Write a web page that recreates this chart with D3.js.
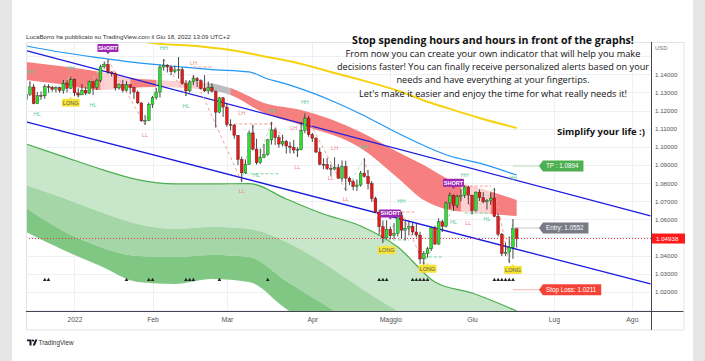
<!DOCTYPE html>
<html>
<head>
<meta charset="utf-8">
<title>EURUSD idea</title>
<script src="https://d3js.org/d3.v7.min.js"></script>
<style>
  body { margin: 0; background: #e6e6e6; }
  svg { display: block; }
</style>
</head>
<body>
<svg id="chart" width="705" height="361"></svg>
<script>
// ---- data (EURUSD daily) ----
var dates = [
  "2021-12-15","2021-12-16","2021-12-17","2021-12-20","2021-12-21","2021-12-22","2021-12-23","2021-12-24","2021-12-27","2021-12-28","2021-12-29","2021-12-30","2021-12-31",
  "2022-01-03","2022-01-04","2022-01-05","2022-01-06","2022-01-07","2022-01-10","2022-01-11","2022-01-12","2022-01-13","2022-01-14","2022-01-17","2022-01-18","2022-01-19","2022-01-20","2022-01-21","2022-01-24","2022-01-25","2022-01-26","2022-01-27","2022-01-28","2022-01-31",
  "2022-02-01","2022-02-02","2022-02-03","2022-02-04","2022-02-07","2022-02-08","2022-02-09","2022-02-10","2022-02-11","2022-02-14","2022-02-15","2022-02-16","2022-02-17","2022-02-18","2022-02-21","2022-02-22","2022-02-23","2022-02-24","2022-02-25","2022-02-28",
  "2022-03-01","2022-03-02","2022-03-03","2022-03-04","2022-03-07","2022-03-08","2022-03-09","2022-03-10","2022-03-11","2022-03-14","2022-03-15","2022-03-16","2022-03-17","2022-03-18","2022-03-21","2022-03-22","2022-03-23","2022-03-24","2022-03-25","2022-03-28","2022-03-29","2022-03-30","2022-03-31",
  "2022-04-01","2022-04-04","2022-04-05","2022-04-06","2022-04-07","2022-04-08","2022-04-11","2022-04-12","2022-04-13","2022-04-14","2022-04-15","2022-04-18","2022-04-19","2022-04-20","2022-04-21","2022-04-22","2022-04-25","2022-04-26","2022-04-27","2022-04-28","2022-04-29",
  "2022-05-02","2022-05-03","2022-05-04","2022-05-05","2022-05-06","2022-05-09","2022-05-10","2022-05-11","2022-05-12","2022-05-13","2022-05-16","2022-05-17","2022-05-18","2022-05-19","2022-05-20","2022-05-23","2022-05-24","2022-05-25","2022-05-26","2022-05-27","2022-05-30","2022-05-31",
  "2022-06-01","2022-06-02","2022-06-03","2022-06-06","2022-06-07","2022-06-08","2022-06-09","2022-06-10","2022-06-13","2022-06-14","2022-06-15","2022-06-16","2022-06-17"
];
var open = [
  1.1259,1.1290,1.1330,1.1238,1.1283,1.1281,1.1332,1.1328,1.1318,1.1327,1.1310,1.1349,1.1323,
  1.1370,1.1297,1.1286,1.1312,1.1296,1.1359,1.1326,1.1367,1.1441,1.1455,1.1413,1.1405,1.1325,1.1344,1.1312,1.1343,1.1326,1.1302,1.1242,1.1143,1.1146,
  1.1233,1.1271,1.1302,1.1440,1.1450,1.1440,1.1415,1.1424,1.1426,1.1348,1.1308,1.1358,1.1375,1.1364,1.1321,1.1308,1.1328,1.1306,1.1191,1.1270,
  1.1219,1.1123,1.1120,1.1063,1.0930,1.0856,1.0903,1.1076,1.0987,1.0912,1.0942,1.0956,1.1038,1.1093,1.1050,1.1015,1.1030,1.1004,1.0997,1.0982,1.0984,1.1089,1.1158,
  1.1067,1.1047,1.0971,1.0903,1.0902,1.0880,1.0877,1.0885,1.0827,1.0891,1.0827,1.0808,1.0780,1.0789,1.0855,1.0836,1.0797,1.0714,1.0640,1.0559,1.0497,
  1.0545,1.0509,1.0522,1.0620,1.0540,1.0551,1.0561,1.0530,1.0513,1.0381,1.0411,1.0437,1.0552,1.0463,1.0586,1.0562,1.0690,1.0733,1.0677,1.0725,1.0733,1.0778,
  1.0733,1.0648,1.0750,1.0719,1.0696,1.0703,1.0717,1.0616,1.0518,1.0410,1.0419,1.0445,1.0551
];
var high = [
  1.1300,1.1360,1.1346,1.1302,1.1305,1.1345,1.1345,1.1336,1.1334,1.1331,1.1369,1.1365,1.1386,
  1.1376,1.1323,1.1346,1.1330,1.1364,1.1362,1.1375,1.1452,1.1470,1.1482,1.1416,1.1410,1.1350,1.1369,1.1363,1.1345,1.1330,1.1310,1.1245,1.1175,1.1245,
  1.1280,1.1325,1.1451,1.1484,1.1455,1.1446,1.1448,1.1495,1.1440,1.1368,1.1368,1.1395,1.1385,1.1372,1.1395,1.1360,1.1350,1.1310,1.1275,1.1275,
  1.1237,1.1151,1.1125,1.1065,1.0945,1.0930,1.1090,1.1121,1.1044,1.0990,1.1016,1.1044,1.1137,1.1104,1.1066,1.1067,1.1038,1.1027,1.1037,1.0997,1.1137,1.1185,1.1170,
  1.1076,1.1054,1.0995,1.0936,1.0938,1.0903,1.0942,1.0904,1.0925,1.0923,1.0835,1.0818,1.0820,1.0867,1.0936,1.0872,1.0810,1.0725,1.0654,1.0593,1.0594,
  1.0559,1.0579,1.0630,1.0642,1.0590,1.0592,1.0580,1.0578,1.0531,1.0425,1.0448,1.0555,1.0565,1.0605,1.0597,1.0698,1.0748,1.0737,1.0735,1.0765,1.0786,1.0784,
  1.0736,1.0753,1.0764,1.0750,1.0712,1.0748,1.0773,1.0632,1.0524,1.0470,1.0506,1.0601,1.0556
];
var low = [
  1.1222,1.1280,1.1235,1.1235,1.1260,1.1265,1.1300,1.1304,1.1300,1.1298,1.1293,1.1300,1.1318,
  1.1280,1.1273,1.1285,1.1285,1.1290,1.1285,1.1313,1.1355,1.1430,1.1402,1.1388,1.1310,1.1315,1.1300,1.1305,1.1290,1.1264,1.1235,1.1137,1.1121,1.1141,
  1.1214,1.1260,1.1272,1.1420,1.1410,1.1395,1.1405,1.1375,1.1342,1.1280,1.1300,1.1340,1.1330,1.1315,1.1302,1.1290,1.1300,1.1106,1.1185,1.1165,
  1.1110,1.1090,1.1044,1.0899,1.0806,1.0850,1.0900,1.0980,1.0902,1.0905,1.0937,1.0950,1.1012,1.1010,1.0995,1.1002,1.0962,1.0963,1.0963,1.0945,1.0980,1.1075,1.1055,
  1.1027,1.0965,1.0898,1.0876,1.0872,1.0837,1.0870,1.0823,1.0807,1.0757,1.0790,1.0760,1.0757,1.0780,1.0830,1.0765,1.0697,1.0636,1.0515,1.0470,1.0490,
  1.0490,1.0492,1.0505,1.0493,1.0484,1.0510,1.0513,1.0500,1.0354,1.0350,1.0390,1.0425,1.0460,1.0460,1.0530,1.0555,1.0658,1.0646,1.0662,1.0699,1.0717,1.0683,
  1.0627,1.0642,1.0701,1.0688,1.0653,1.0680,1.0611,1.0506,1.0397,1.0397,1.0359,1.0382,1.0444
];
var close = [
  1.1290,1.1330,1.1238,1.1283,1.1281,1.1332,1.1328,1.1318,1.1327,1.1310,1.1349,1.1323,1.1370,
  1.1297,1.1286,1.1312,1.1296,1.1359,1.1326,1.1367,1.1441,1.1455,1.1413,1.1405,1.1325,1.1344,1.1312,1.1343,1.1326,1.1302,1.1242,1.1143,1.1146,1.1233,
  1.1271,1.1302,1.1440,1.1450,1.1440,1.1415,1.1424,1.1426,1.1348,1.1308,1.1358,1.1375,1.1364,1.1321,1.1308,1.1328,1.1306,1.1191,1.1270,1.1219,
  1.1123,1.1120,1.1063,1.0930,1.0856,1.0903,1.1076,1.0987,1.0912,1.0942,1.0956,1.1038,1.1093,1.1050,1.1015,1.1030,1.1004,1.0997,1.0982,1.0984,1.1089,1.1158,1.1067,
  1.1047,1.0971,1.0903,1.0902,1.0880,1.0877,1.0885,1.0827,1.0891,1.0827,1.0808,1.0780,1.0789,1.0855,1.0836,1.0797,1.0714,1.0640,1.0559,1.0497,1.0545,
  1.0509,1.0522,1.0620,1.0540,1.0551,1.0561,1.0530,1.0513,1.0381,1.0411,1.0437,1.0552,1.0463,1.0586,1.0562,1.0690,1.0733,1.0677,1.0725,1.0733,1.0778,1.0733,
  1.0648,1.0750,1.0719,1.0696,1.0703,1.0717,1.0616,1.0518,1.0410,1.0419,1.0445,1.0551,1.04938
];
var lastPrice = 1.04938;

// axes
var priceTicks = [1.14, 1.13, 1.12, 1.11, 1.10, 1.09, 1.08, 1.07, 1.06, 1.04, 1.03, 1.02];
var gridPrices = [1.15, 1.14, 1.13, 1.12, 1.11, 1.10, 1.09, 1.08, 1.07, 1.06, 1.05, 1.04, 1.03, 1.02, 1.01];
var timeTickBars = [13, 34, 54, 77, 98, 120, 142, 163];
var timeTickLabels = ["2022", "Feb", "Mar", "Apr", "Maggio", "Giu", "Lug", "Ago"];

// overlays (bar index, price)
var yellowBars = [20, 31, 33, 47, 55, 65, 73, 82, 90, 101, 108, 114, 122, 132];
var yellowVals = [1.1625, 1.1585, 1.1575, 1.1553, 1.1534, 1.1495, 1.1462, 1.1413, 1.1369, 1.1303, 1.1248, 1.1209, 1.1159, 1.1104];
var skyBars = [0, 9, 20, 28, 42, 50, 60, 65, 68, 77, 83, 90, 101, 114, 122, 132];
var skyVals = [1.1556, 1.1523, 1.1490, 1.1468, 1.1440, 1.1426, 1.1413, 1.1374, 1.1358, 1.1297, 1.1247, 1.1181, 1.1065, 1.0949, 1.0910, 1.0844];
var channelBars = [0, 168];
var channelTop = [1.1531, 1.0619];
var channelBottom = [1.1138, 1.0243];

var bandBars = [0, 9, 20, 28, 35, 49, 55, 64, 74, 90, 100, 107, 114, 122, 132];
var bandTop = [1.1468, 1.1446, 1.1413, 1.1380, 1.1369, 1.1352, 1.1324, 1.1242, 1.1203, 1.1082, 1.0971, 1.0899, 1.0817, 1.0773, 1.0706];
var bandBottom = [1.1369, 1.1346, 1.1313, 1.1324, 1.1330, 1.1313, 1.1286, 1.1186, 1.1120, 1.0993, 1.0828, 1.0706, 1.0651, 1.0634, 1.0618];
var bandFrom = [0, 20, 28, 35, 49, 55, 117, 125];
var bandTo = [20, 28, 35, 49, 55, 117, 125, 133];
var bandKind = ["bear", "weak", "bear", "weak", "flat", "bear", "weak", "bear"];

var greenBars = [0, 10, 20, 30, 40, 50, 60, 70, 80, 90, 100, 110, 120, 132];
var greenTop = [1.1015, 1.0946, 1.0877, 1.0819, 1.0795, 1.0795, 1.0797, 1.0712, 1.0629, 1.0563, 1.0447, 1.0254, 1.0193, 1.0094];
var greenMid = [1.0789, 1.0717, 1.0640, 1.0574, 1.0546, 1.0557, 1.0546, 1.0475, 1.0359, 1.0221, 1.0094, 0.9989, 0.9934, 0.9879];
var greenInner = [1.0662, 1.0535, 1.0447, 1.0397, 1.0392, 1.0403, 1.0392, 1.0259, 1.0132, 1.0016, 0.9934, 0.9879, 0.9851, 0.9824];
var greenBottom = [1.0530, 1.0430, 1.0342, 1.0254, 1.0243, 1.0270, 1.0254, 1.0105, 0.9989, 0.9906, 0.9851, 0.9824, 0.9797, 0.9769];

var zigBars = [1, 2, 12, 14, 22, 32, 37, 43, 45, 58, 61, 62, 66, 73, 75, 86, 91, 96, 101, 107, 118, 120, 126, 130, 131];
var zigPrice = [1.1360, 1.1235, 1.1386, 1.1273, 1.1482, 1.1121, 1.1484, 1.1280, 1.1395, 1.0806, 1.1121, 1.0902, 1.1137, 1.0945, 1.1185, 1.0757, 1.0936, 1.0470, 1.0642, 1.0350, 1.0786, 1.0627, 1.0773, 1.0359, 1.0601];

var levelFrom = [45, 56, 59, 96, 101, 107, 118, 118];
var levelTo = [50, 66, 68, 103, 105, 112, 125, 125];
var levelPrice = [1.1440, 1.1126, 1.0851, 1.0486, 1.0640, 1.0392, 1.0783, 1.0634];
var levelKind = ["hi", "hi", "lo", "lo", "hi", "lo", "hi", "lo"];

var pivotBars = [1, 3, 12, 18, 32, 37, 45, 43, 58, 58, 62, 66, 72, 73, 75, 83, 91, 82, 86, 101, 115, 119, 124, 118, 131, 131];
var pivotText = ["HH", "HL", "HH", "HL", "LL", "HH", "LH", "HL", "LH", "LL", "HL", "HH", "LH", "LL", "HH", "LH", "HH", "LL", "LL", "HH", "HL", "LL", "HL", "HH", "HH", "LH"];
var pivotPrice = [1.1414, 1.1181, 1.1436, 1.1231, 1.1065, 1.1542, 1.1460, 1.1225, 1.1186, 1.0756, 1.0844, 1.1197, 1.1104, 1.0890, 1.1249, 1.0992, 1.0997, 1.0826, 1.0710, 1.0701, 1.0587, 1.0578, 1.0600, 1.0844, 1.0826, 1.0661];

var signalBars = [22, 12, 98, 97, 108, 115, 131];
var signalText = ["SHORT", "LONG", "SHORT", "LONG", "LONG", "SHORT", "LONG"];
var signalPrice = [1.1545, 1.1243, 1.0632, 1.0429, 1.0327, 1.0801, 1.0320];

var markerBars = [5, 6, 27, 33, 34, 43, 44, 45, 52, 65, 95, 96, 97, 104, 105, 106, 107, 108, 126, 127, 128, 129, 130, 131];
var markerPrice = 1.0265;

var tradeText = ["TP : 1.0894", "Entry: 1.0552", "Stop Loss: 1.0211"];
var tradePrice = [1.0894, 1.0552, 1.0211];

var noteLines = [
  "Stop spending hours and hours in front of the graphs!",
  "From now you can create your own indicator that will help you make",
  "decisions faster! You can finally receive personalized alerts based on your",
  "needs and have everything at your fingertips.",
  "Let's make it easier and enjoy the time for what really needs it!"
];
var noteWidths = [282, 295, 312, 193, 268];

// ---- drawing ----
var svg = d3.select("#chart");
var plot = { left: 26, right: 651, top: 42, bottom: 311 };
var x = d3.scaleLinear().domain([-0.05, 168.15]).range([plot.left, plot.right]);
var y = d3.scaleLinear().domain([1.0094, 1.1578]).range([plot.bottom, plot.top]);
var font = "'Liberation Sans', Arial, sans-serif";

svg.append("rect").attr("width", 705).attr("height", 361).attr("fill", "#e6e6e6");
svg.append("rect").attr("x", 12).attr("width", 681).attr("height", 361).attr("fill", "#fff");

var defs = svg.append("defs");
defs.append("clipPath").attr("id", "plotClip").append("rect")
  .attr("x", plot.left).attr("y", plot.top)
  .attr("width", plot.right - plot.left).attr("height", plot.bottom - plot.top);

// grid
var grid = svg.append("g").attr("stroke", "#eef0f5").attr("stroke-width", 1);
grid.selectAll(".gh").data(gridPrices).enter().append("line")
  .attr("x1", plot.left).attr("x2", plot.right)
  .attr("y1", function(d) { return Math.round(y(d)) + 0.5; })
  .attr("y2", function(d) { return Math.round(y(d)) + 0.5; });
grid.selectAll(".gv").data(timeTickBars).enter().append("line")
  .attr("y1", plot.top).attr("y2", plot.bottom)
  .attr("x1", function(d) { return Math.round(x(d)) + 0.5; })
  .attr("x2", function(d) { return Math.round(x(d)) + 0.5; });

var g = svg.append("g").attr("clip-path", "url(#plotClip)");

// green lower bands
function zipBand(bars, hi, lo) {
  return bars.map(function(k, i) { return { k: k, hi: hi[i], lo: lo[i] }; });
}
var bandArea = d3.area()
  .x(function(d) { return x(d.k); })
  .y0(function(d) { return y(d.lo); })
  .y1(function(d) { return y(d.hi); })
  .curve(d3.curveMonotoneX);
g.append("path").datum(zipBand(greenBars, greenTop, greenMid)).attr("d", bandArea).attr("fill", "#c8e6c9");
g.append("path").datum(zipBand(greenBars, greenMid, greenInner)).attr("d", bandArea).attr("fill", "#a5d6a7");
g.append("path").datum(zipBand(greenBars, greenInner, greenBottom)).attr("d", bandArea).attr("fill", "#81c784");

var lineGen = d3.line()
  .x(function(d) { return x(d[0]); })
  .y(function(d) { return y(d[1]); })
  .curve(d3.curveMonotoneX);
function pts(bars, vals) { return bars.map(function(k, i) { return [k, vals[i]]; }); }

g.append("path").datum(pts(greenBars, greenTop)).attr("d", lineGen)
  .attr("fill", "none").attr("stroke", "#4caf50").attr("stroke-width", 1.2);

// red cloud
var bandColors = { bear: "#f67f7f", weak: "#fbd1d1", flat: "#bdbdbd" };
var cloud = zipBand(bandBars, bandTop, bandBottom);
bandFrom.forEach(function(k0, i) {
  var id = "band" + i;
  defs.append("clipPath").attr("id", id).append("rect")
    .attr("x", x(k0)).attr("y", 0).attr("width", x(bandTo[i]) - x(k0) + 0.3).attr("height", 361);
  g.append("g").attr("clip-path", "url(#" + id + ")")
    .append("path").datum(cloud).attr("d", bandArea).attr("fill", bandColors[bandKind[i]]);
});

// moving averages
g.append("path").datum(pts(yellowBars, yellowVals)).attr("d", lineGen)
  .attr("fill", "none").attr("stroke", "#f6d20f").attr("stroke-width", 2);
g.append("path").datum(pts(skyBars, skyVals)).attr("d", lineGen)
  .attr("fill", "none").attr("stroke", "#2196f3").attr("stroke-width", 1.2);

// channel
var straight = d3.line().x(function(d) { return x(d[0]); }).y(function(d) { return y(d[1]); });
[channelTop, channelBottom].forEach(function(vals) {
  g.append("path").datum(pts(channelBars, vals)).attr("d", straight)
    .attr("fill", "none").attr("stroke", "#1c1ce0").attr("stroke-width", 1.3);
});

// zigzag legs
for (var i = 0; i < zigBars.length - 1; i++) {
  var down = zigPrice[i + 1] < zigPrice[i];
  g.append("line")
    .attr("x1", x(zigBars[i])).attr("y1", y(zigPrice[i]))
    .attr("x2", x(zigBars[i + 1])).attr("y2", y(zigPrice[i + 1]))
    .attr("stroke", down ? "#f3a09a" : "#a6e3b8").attr("stroke-width", 1)
    .attr("stroke-dasharray", "3,3");
}
// swing levels
levelFrom.forEach(function(k0, i) {
  g.append("line")
    .attr("x1", x(k0)).attr("x2", x(levelTo[i]))
    .attr("y1", y(levelPrice[i])).attr("y2", y(levelPrice[i]))
    .attr("stroke", levelKind[i] === "hi" ? "#f39a94" : "#7fd69a")
    .attr("stroke-width", 1).attr("stroke-dasharray", "3,2");
});

// candles
var bw = 2.8;
var candles = g.append("g");
dates.forEach(function(d, k) {
  var up = close[k] >= open[k];
  candles.append("line")
    .attr("x1", x(k)).attr("x2", x(k))
    .attr("y1", y(high[k])).attr("y2", y(low[k]))
    .attr("stroke", "#1a1a1a").attr("stroke-width", 0.8);
  var top = y(Math.max(open[k], close[k]));
  var h = Math.max(0.8, Math.abs(y(open[k]) - y(close[k])));
  candles.append("rect")
    .attr("x", x(k) - bw / 2).attr("y", top).attr("width", bw).attr("height", h)
    .attr("fill", up ? "#2de02d" : "#ee1515")
    .attr("stroke", "#222").attr("stroke-width", 0.35);
});

// pivot labels
pivotBars.forEach(function(k, i) {
  var t = pivotText[i];
  g.append("text").attr("x", x(k)).attr("y", y(pivotPrice[i]))
    .attr("dy", "0.35em").attr("text-anchor", "middle")
    .attr("font-family", font).attr("font-size", 5.5)
    .attr("fill", (t === "HH" || t === "HL") ? "#62c99a" : "#ef8a84")
    .text(t);
});

// markers
g.selectAll(".mk").data(markerBars).enter().append("path")
  .attr("d", d3.symbol().type(d3.symbolTriangle).size(6))
  .attr("transform", function(k) { return "translate(" + x(k) + "," + y(markerPrice) + ")"; })
  .attr("fill", "#222");

// signal labels
signalBars.forEach(function(k, i) {
  var short = signalText[i] === "SHORT";
  var cx = x(k), cy = y(signalPrice[i]);
  var w = short ? 21 : 18, h = 8;
  var lg = svg.append("g");
  lg.append("rect").attr("x", cx - w / 2).attr("y", cy - h / 2).attr("width", w).attr("height", h)
    .attr("rx", 1).attr("fill", short ? "#9c27b0" : "#f7e43a");
  var tip = short ? [[cx - 2, cy + h / 2], [cx + 2, cy + h / 2], [cx, cy + h / 2 + 2]]
                  : [[cx - 2, cy - h / 2], [cx + 2, cy - h / 2], [cx, cy - h / 2 - 2]];
  lg.append("polygon").attr("points", tip.join(" ")).attr("fill", short ? "#9c27b0" : "#f7e43a");
  lg.append("text").attr("x", cx).attr("y", cy).attr("dy", "0.36em").attr("text-anchor", "middle")
    .attr("font-family", font).attr("font-size", 5.6).attr("font-weight", short ? "bold" : "normal")
    .attr("fill", short ? "#fff" : "#555").text(signalText[i]);
});

// trade levels
var tradeFill = ["#4caf50", "#787b86", "#f44336"];
var tradeLine = ["#b5dfb7", "#c8c8c8", "#f7b3b0"];
tradeText.forEach(function(t, i) {
  var yy = y(tradePrice[i]);
  svg.append("line").attr("x1", x(131)).attr("x2", x(138)).attr("y1", yy).attr("y2", yy)
    .attr("stroke", tradeLine[i]).attr("stroke-width", 1);
  var bx = x(138);
  var tg = svg.append("g");
  var txt = tg.append("text").attr("x", bx + 7).attr("y", yy).attr("dy", "0.35em")
    .attr("font-family", font).attr("font-size", 6.3).attr("fill", "#fff").text(t);
  var tw = txt.node().getComputedTextLength();
  var w = tw + 12;
  tg.insert("path", "text")
    .attr("d", "M" + bx + "," + yy + " L" + (bx + 4) + "," + (yy - 5.5) + " H" + (bx + w) +
      " V" + (yy + 5.5) + " H" + (bx + 4) + " Z")
    .attr("fill", tradeFill[i]);
});

// last price line
svg.append("line").attr("x1", plot.left).attr("x2", plot.right)
  .attr("y1", y(lastPrice)).attr("y2", y(lastPrice))
  .attr("stroke", "#f23645").attr("stroke-width", 1).attr("stroke-dasharray", "1,2");

// frame
var frame = svg.append("g");
frame.append("rect").attr("x", plot.left + 0.5).attr("y", plot.top + 0.5)
  .attr("width", 683.5 - plot.left).attr("height", 329.5 - plot.top)
  .attr("fill", "none").attr("stroke", "#e0e3eb");
frame.append("line").attr("x1", plot.left).attr("x2", 683.5).attr("y1", plot.bottom + 0.5).attr("y2", plot.bottom + 0.5)
  .attr("stroke", "#434651");
frame.append("line").attr("x1", plot.right + 0.5).attr("x2", plot.right + 0.5).attr("y1", plot.top).attr("y2", 330)
  .attr("stroke", "#434651");

// price axis
var yAxis = d3.axisRight(y).tickValues(priceTicks).tickFormat(d3.format(".5f")).tickSize(0).tickPadding(4);
var ya = svg.append("g").attr("transform", "translate(" + plot.right + ",0)").call(yAxis);
ya.select(".domain").remove();
ya.selectAll("text").attr("font-family", font).attr("font-size", 6.2).attr("fill", "#555");
svg.append("text").attr("x", 655).attr("y", 50).attr("font-family", font).attr("font-size", 6)
  .attr("fill", "#777").text("USD");
svg.append("rect").attr("x", plot.right + 1).attr("y", y(lastPrice) - 5).attr("width", 33).attr("height", 10)
  .attr("fill", "#ff1a1a");
svg.append("text").attr("x", plot.right + 5).attr("y", y(lastPrice)).attr("dy", "0.35em")
  .attr("font-family", font).attr("font-size", 6.2).attr("fill", "#fff").text(d3.format(".5f")(lastPrice));

// time axis
var xAxis = d3.axisBottom(x).tickValues(timeTickBars)
  .tickFormat(function(d, i) { return timeTickLabels[i]; }).tickSize(0).tickPadding(6);
var xa = svg.append("g").attr("transform", "translate(0," + plot.bottom + ")").call(xAxis);
xa.select(".domain").remove();
xa.selectAll("text").attr("font-family", font).attr("font-size", 6.8).attr("fill", "#555");

// fit a text's font size so its natural width is the wanted width
function fitText(sel, size, width) {
  sel.attr("font-size", size);
  var w = sel.node().getComputedTextLength();
  if (w > 0) sel.attr("font-size", size * width / w);
  return sel;
}

// header and footer
fitText(svg.append("text").attr("x", 26).attr("y", 38.5).attr("font-family", font)
  .attr("fill", "#333").text("LucaBorro ha pubblicato su TradingView.com il Giu 18, 2022 13:09 UTC+2"), 6.6, 204);
var logo = svg.append("g").attr("fill", "#131722");
logo.append("path").attr("d", "M27,339.5 H31.5 V345.5 H29.5 V341.3 H27 Z");
logo.append("circle").attr("cx", 33).attr("cy", 340.6).attr("r", 1.1);
logo.append("path").attr("d", "M35.2,339.5 H37.4 L34.9,345.5 H32.7 Z");
svg.append("text").attr("x", 38.5).attr("y", 345).attr("font-family", font).attr("font-size", 6.4)
  .attr("fill", "#333").text("TradingView");

// annotation text
noteLines.forEach(function(t, i) {
  var tx = svg.append("text").attr("x", 493).attr("y", 43.7 + i * 13.2).attr("text-anchor", "middle")
    .attr("font-family", "'Open Sans', sans-serif")
    .attr("font-weight", i === 0 ? "bold" : "normal")
    .attr("fill", "#111").text(t);
  fitText(tx, i === 0 ? 11 : 10.2, noteWidths[i]);
});
fitText(svg.append("text").attr("x", 601).attr("y", 135).attr("text-anchor", "middle")
  .attr("font-family", "'Open Sans', sans-serif").attr("font-weight", "bold")
  .attr("fill", "#111").text("Simplify your life :)"), 9.6, 88);
</script>
</body>
</html>
